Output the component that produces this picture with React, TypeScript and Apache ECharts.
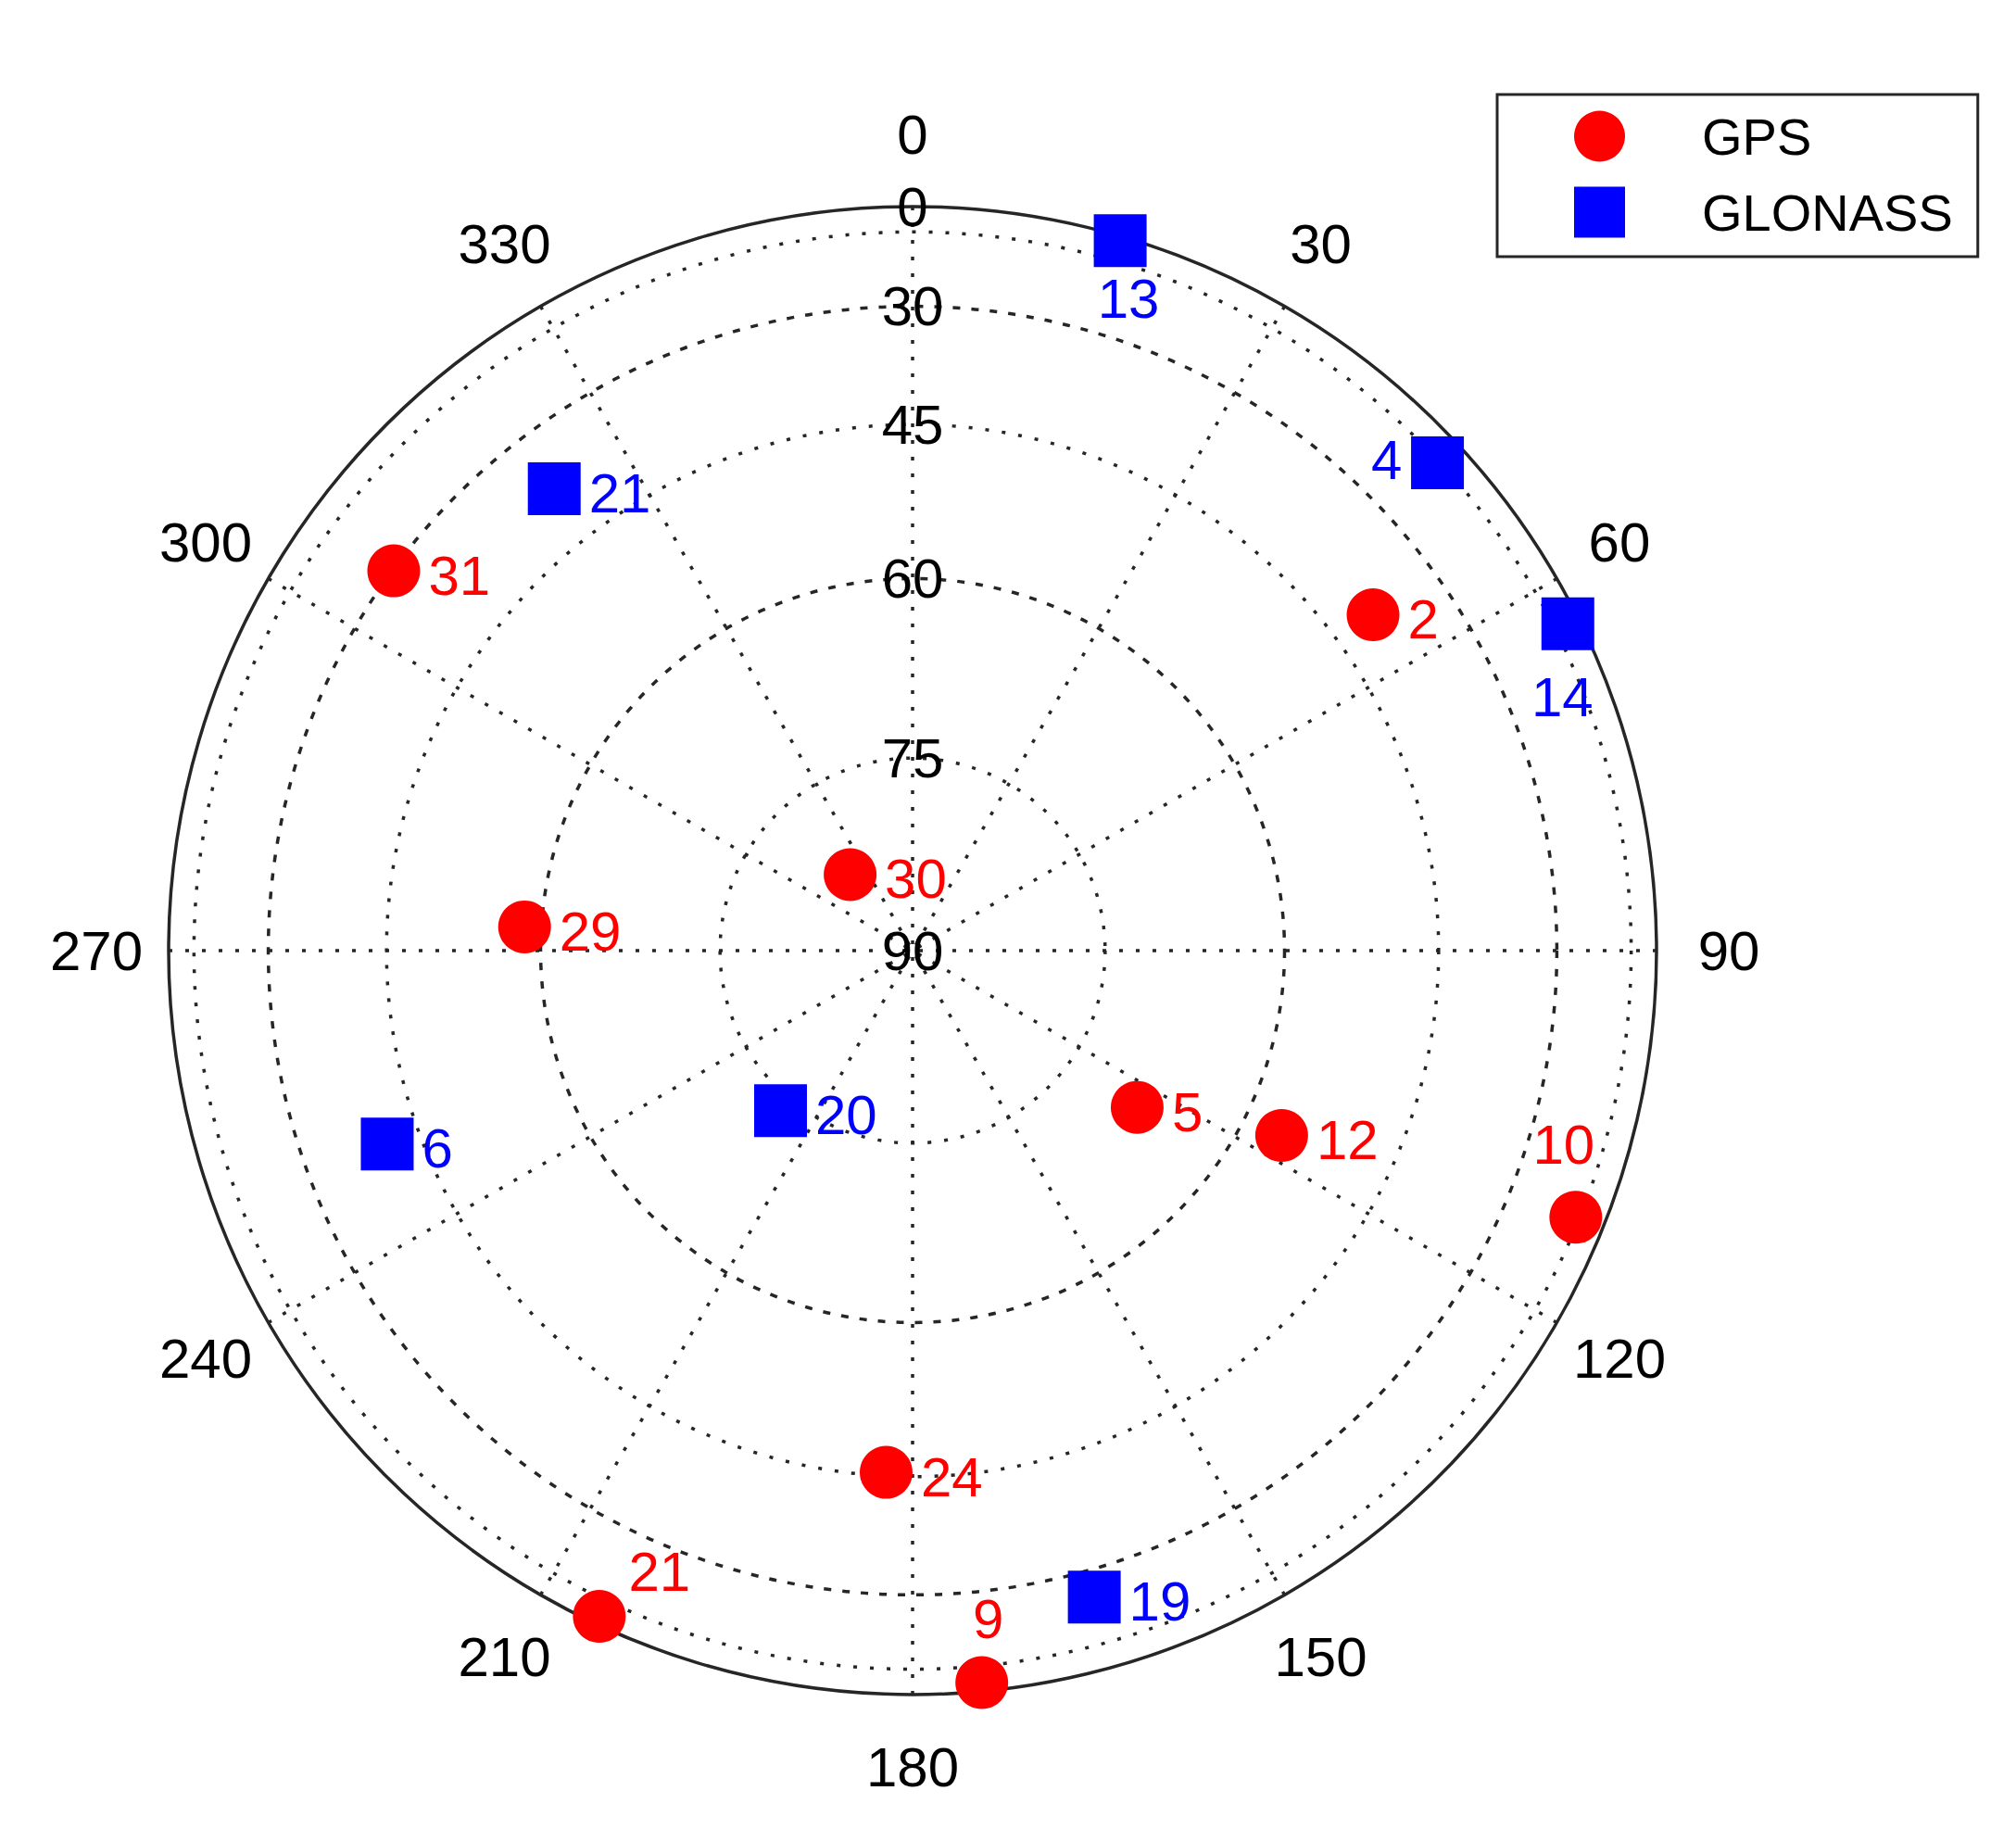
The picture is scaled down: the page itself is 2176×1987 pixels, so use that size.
import React, { useEffect, useRef } from "react";
import * as echarts from "echarts";

// ---- Data (azimuth in degrees clockwise from north, elevation in degrees) ----
const GPS_PRN = [30, 29, 31, 2, 5, 12, 10, 24, 21, 9];
const GPS_AZ = [320.6, 273.5, 306.2, 53.9, 124.9, 116.6, 111.9, 182.9, 205.2, 174.6];
const GPS_EL = [82.4, 58.5, 30.2, 40.0, 68.4, 56.3, 16.1, 45.4, 8.5, 8.8];

const GLO_PRN = [13, 4, 14, 21, 6, 20, 19];
const GLO_AZ = [16.3, 47.1, 63.5, 322.2, 249.8, 219.5, 164.3];
const GLO_EL = [6.1, 15.6, 10.2, 38.2, 41.2, 73.8, 25.5];

// ---- Tick labels / rings ----
const AZ_TICKS = [0, 30, 60, 90, 120, 150, 180, 210, 240, 270, 300, 330];
const ELEV_LABELS = [0, 30, 45, 60, 75, 90];
const RING_DOTTED = [15, 45, 75];
const RING_DASHED = [30, 60];

// label placement overrides (offset from marker centre), by PRN
const GPS_LABEL_OFFSET: Record<number, number[]> = { 10: [-13, -78], 21: [65, -48], 9: [7, -69] };
const GLO_LABEL_OFFSET: Record<number, number[]> = { 13: [9, 63], 4: [-55, -3], 14: [-6, 79] };

const FONT = "'Liberation Sans', Arial, sans-serif";
const GRID = "#262626";
const CENTER = [985, 1026];
const R = 803;

const toR = (el: number) => (el >= 90 ? 0 : Math.cos((el * Math.PI) / 180));
const toEl = (r: number) =>
  Math.round((Math.acos(Math.min(1, Math.max(0, r))) * 180) / Math.PI);

function buildData(prn: number[], az: number[], el: number[], special: Record<number, number[]>) {
  return prn.map((p, i) => {
    const item: any = { name: String(p), value: [toR(el[i]), az[i]] };
    const off = special[p];
    if (off) item.label = { position: "inside", offset: off };
    return item;
  });
}

export default function App() {
  const ref = useRef<HTMLDivElement>(null);

  useEffect(() => {
    if (!ref.current) return;
    const chart = echarts.init(ref.current, undefined, { renderer: "svg" });

    const satLabel = (color: string) => ({
      show: true,
      formatter: "{b}",
      position: "right",
      distance: 9,
      offset: [0, 5],
      color,
      opacity: 1,
      fontSize: 60,
      fontFamily: FONT,
    });

    const option: any = {
      animation: false,
      backgroundColor: "#ffffff",
      polar: [
        { center: CENTER, radius: R },
        { center: CENTER, radius: R },
        { center: CENTER, radius: 881 },
      ],
      angleAxis: [
        {
          polarIndex: 0,
          type: "value",
          min: 0,
          max: 360,
          interval: 30,
          startAngle: 90,
          clockwise: true,
          axisLine: { show: true, lineStyle: { color: GRID, width: 3.5 } },
          axisTick: { show: false },
          axisLabel: { show: false },
          splitLine: {
            show: true,
            lineStyle: { color: GRID, width: 3.5, type: [4, 14] },
          },
        },
        {
          polarIndex: 1,
          type: "value",
          min: 0,
          max: 360,
          startAngle: 90,
          axisLine: { show: false },
          axisTick: { show: false },
          axisLabel: { show: false },
          splitLine: { show: false },
        },
        {
          polarIndex: 2,
          type: "value",
          min: 0,
          max: 360,
          startAngle: 90,
          clockwise: true,
          show: false,
        },
      ],
      radiusAxis: [
        {
          polarIndex: 0,
          type: "value",
          min: 0,
          max: 1,
          axisLine: { show: false },
          axisTick: { show: false, customValues: RING_DOTTED.map(toR) },
          axisLabel: {
            show: true,
            customValues: ELEV_LABELS.map(toR),
            formatter: (v: number) => String(toEl(v)),
            align: "center",
            verticalAlign: "middle",
            margin: 0,
            color: "#000",
            fontSize: 60,
            fontFamily: FONT,
          },
          splitLine: {
            show: true,
            lineStyle: { color: GRID, width: 3.5, type: [4, 14] },
          },
          z: 5,
        },
        {
          polarIndex: 1,
          type: "value",
          min: 0,
          max: 1,
          axisLine: { show: false },
          axisTick: { show: false, customValues: RING_DASHED.map(toR) },
          axisLabel: { show: false },
          splitLine: {
            show: true,
            lineStyle: { color: GRID, width: 3.5, type: [8, 12] },
          },
        },
        {
          polarIndex: 2,
          type: "value",
          min: 0,
          max: 1,
          show: false,
        },
      ],
      legend: {
        data: ["GPS", "GLONASS"],
        orient: "vertical",
        left: 1616,
        top: 102,
        padding: [17, 27, 20, 83],
        itemGap: 26,
        itemWidth: 55,
        itemHeight: 55,
        borderColor: GRID,
        borderWidth: 3,
        borderRadius: 0,
        backgroundColor: "#ffffff",
        textStyle: {
          fontSize: 56,
          color: "#000",
          fontFamily: FONT,
          padding: [9, 0, 0, 78],
        },
      },
      series: [
        {
          name: "AzLabels",
          type: "scatter",
          coordinateSystem: "polar",
          polarIndex: 2,
          silent: true,
          symbolSize: 1,
          itemStyle: { color: "rgba(0,0,0,0)", opacity: 1 },
          data: AZ_TICKS.map((a) => [1, a]),
          label: {
            show: true,
            position: "inside",
            formatter: (p: any) => String(p.data[1]),
            color: "#000",
            opacity: 1,
            fontSize: 60,
            fontFamily: FONT,
          },
        },
        {
          name: "GPS",
          type: "scatter",
          coordinateSystem: "polar",
          polarIndex: 0,
          symbol: "circle",
          symbolSize: 57,
          itemStyle: { color: "#ff0000", opacity: 1 },
          data: buildData(GPS_PRN, GPS_AZ, GPS_EL, GPS_LABEL_OFFSET),
          label: satLabel("#ff0000"),
          z: 10,
        },
        {
          name: "GLONASS",
          type: "scatter",
          coordinateSystem: "polar",
          polarIndex: 0,
          symbol: "rect",
          symbolSize: 57,
          itemStyle: { color: "#0000ff", opacity: 1 },
          data: buildData(GLO_PRN, GLO_AZ, GLO_EL, GLO_LABEL_OFFSET),
          label: satLabel("#0000ff"),
          z: 10,
        },
      ],
    };

    chart.setOption(option);
    return () => chart.dispose();
  }, []);

  return (
    <div
      ref={ref}
      style={{ position: "absolute", left: 0, top: 0, width: 2176, height: 1987, background: "#fff" }}
    />
  );
}
